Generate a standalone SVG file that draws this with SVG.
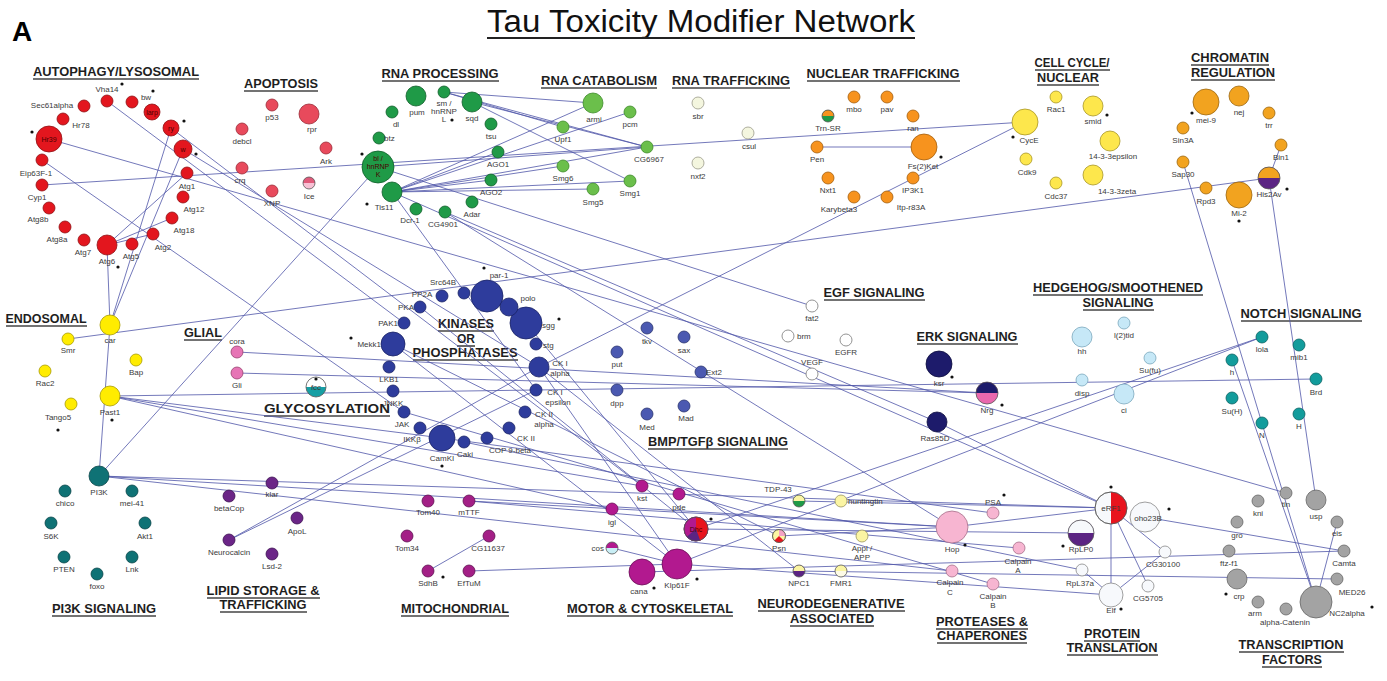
<svg xmlns="http://www.w3.org/2000/svg" width="1387" height="681" viewBox="0 0 1387 681">
<style>
.e{stroke:#5258aa;stroke-width:0.9;fill:none;opacity:0.9}
.l{font-family:"Liberation Sans",Arial,sans-serif;font-size:8px;fill:#3a3a3a;text-anchor:middle}
.ls{font-family:"Liberation Sans",Arial,sans-serif;font-size:8px;fill:#3a3a3a;text-anchor:start}
.le{font-family:"Liberation Sans",Arial,sans-serif;font-size:8px;fill:#3a3a3a;text-anchor:end}
.li{font-family:"Liberation Sans",Arial,sans-serif;font-size:7px;fill:#4a0000;text-anchor:middle}
.h{font-family:"Liberation Sans",Arial,sans-serif;font-size:12.5px;font-weight:bold;fill:#1e1e1e;text-anchor:middle}
.u{stroke:#444;stroke-width:1.6}
.d{fill:#111}
.au{fill:#e3161e;stroke:#8f1014;stroke-width:0.8}
.ap{fill:#e84a5c;stroke:#9a2a36;stroke-width:0.8}
.rp{fill:#1f9a47;stroke:#0f5e29;stroke-width:0.8}
.rc{fill:#6bbf4b;stroke:#3c8a28;stroke-width:0.8}
.rt{fill:#f4f6df;stroke:#9a9a8a;stroke-width:0.8}
.nt{fill:#f7931e;stroke:#a35e0c;stroke-width:0.8}
.cc{fill:#fde74c;stroke:#a89623;stroke-width:0.8}
.ch{fill:#f2a31f;stroke:#9c6710;stroke-width:0.8}
.en{fill:#ffec00;stroke:#a89a00;stroke-width:0.8}
.gl{fill:#e674b5;stroke:#97406f;stroke-width:0.8}
.ki{fill:#2e3c9c;stroke:#1a2366;stroke-width:0.8}
.bm{fill:#4b59b1;stroke:#2a336e;stroke-width:0.8}
.eg{fill:#ffffff;stroke:#888;stroke-width:0.9}
.er{fill:#1d1b6b;stroke:#0d0c3d;stroke-width:0.8}
.hh{fill:#c6e8f7;stroke:#7aa7bc;stroke-width:0.8}
.no{fill:#129c9c;stroke:#0a6262;stroke-width:0.8}
.pi{fill:#0f7275;stroke:#084447;stroke-width:0.8}
.lp{fill:#6b2587;stroke:#3b1050;stroke-width:0.8}
.mi{fill:#a31f86;stroke:#5e1050;stroke-width:0.8}
.mo{fill:#b2198f;stroke:#6a0e55;stroke-width:0.8}
.nd{fill:#fbf5a3;stroke:#9a9560;stroke-width:0.8}
.pr{fill:#f7b5d1;stroke:#a6708a;stroke-width:0.8}
.tr{fill:#f7f9fc;stroke:#888;stroke-width:0.8}
.tf{fill:#a3a3a3;stroke:#666;stroke-width:0.8}
.ring{fill:none;stroke:#555;stroke-width:0.8}
</style>
<rect width="1387" height="681" fill="#ffffff"/>
<text x="12" y="41" font-family="Liberation Sans, Arial, sans-serif" font-size="28" font-weight="bold" fill="#000">A</text>
<text x="701" y="32" font-family="Liberation Sans, Arial, sans-serif" font-size="31" fill="#111" text-anchor="middle" textLength="428" lengthAdjust="spacingAndGlyphs">Tau Toxicity Modifier Network</text>
<line x1="487" y1="38" x2="915" y2="38" stroke="#222" stroke-width="2"/>

<g id="headers">
<text class="h" x="116" y="76" textLength="166" lengthAdjust="spacingAndGlyphs">AUTOPHAGY/LYSOSOMAL</text><line class="u" x1="33" y1="79" x2="199" y2="79"/>
<text class="h" x="281" y="88" textLength="74" lengthAdjust="spacingAndGlyphs">APOPTOSIS</text><line class="u" x1="244" y1="91" x2="318" y2="91"/>
<text class="h" x="440" y="78" textLength="117" lengthAdjust="spacingAndGlyphs">RNA PROCESSING</text><line class="u" x1="382" y1="81" x2="499" y2="81"/>
<text class="h" x="599" y="85" textLength="116" lengthAdjust="spacingAndGlyphs">RNA CATABOLISM</text><line class="u" x1="541" y1="88" x2="657" y2="88"/>
<text class="h" x="731" y="85" textLength="118" lengthAdjust="spacingAndGlyphs">RNA TRAFFICKING</text><line class="u" x1="672" y1="88" x2="790" y2="88"/>
<text class="h" x="883" y="78" textLength="153" lengthAdjust="spacingAndGlyphs">NUCLEAR TRAFFICKING</text><line class="u" x1="807" y1="81" x2="960" y2="81"/>
<text class="h" x="1072" y="67" textLength="75" lengthAdjust="spacingAndGlyphs">CELL CYCLE/</text><line class="u" x1="1035" y1="70" x2="1110" y2="70"/>
<text class="h" x="1068" y="82" textLength="62" lengthAdjust="spacingAndGlyphs">NUCLEAR</text><line class="u" x1="1037" y1="85" x2="1099" y2="85"/>
<text class="h" x="1230" y="62" textLength="78" lengthAdjust="spacingAndGlyphs">CHROMATIN</text><line class="u" x1="1191" y1="65" x2="1269" y2="65"/>
<text class="h" x="1233" y="77" textLength="84" lengthAdjust="spacingAndGlyphs">REGULATION</text><line class="u" x1="1191" y1="80" x2="1275" y2="80"/>
<text class="h" x="46" y="323" textLength="81" lengthAdjust="spacingAndGlyphs">ENDOSOMAL</text><line class="u" x1="6" y1="326" x2="87" y2="326"/>
<text class="h" x="203" y="337" textLength="38" lengthAdjust="spacingAndGlyphs">GLIAL</text><line class="u" x1="184" y1="340" x2="222" y2="340"/>
<text class="h" x="466" y="328" textLength="56" lengthAdjust="spacingAndGlyphs">KINASES</text><line class="u" x1="438" y1="331" x2="494" y2="331"/>
<text class="h" x="466" y="343" textLength="18" lengthAdjust="spacingAndGlyphs">OR</text><line class="u" x1="457" y1="346" x2="475" y2="346"/>
<text class="h" x="465" y="357" textLength="105" lengthAdjust="spacingAndGlyphs">PHOSPHATASES</text><line class="u" x1="413" y1="360" x2="518" y2="360"/>
<text class="h" x="327" y="413" textLength="126" lengthAdjust="spacingAndGlyphs">GLYCOSYLATION</text><line class="u" x1="264" y1="416" x2="390" y2="416"/>
<text class="h" x="874" y="297" textLength="101" lengthAdjust="spacingAndGlyphs">EGF SIGNALING</text><line class="u" x1="824" y1="300" x2="925" y2="300"/>
<text class="h" x="967" y="341" textLength="101" lengthAdjust="spacingAndGlyphs">ERK SIGNALING</text><line class="u" x1="917" y1="344" x2="1018" y2="344"/>
<text class="h" x="1118" y="292" textLength="170" lengthAdjust="spacingAndGlyphs">HEDGEHOG/SMOOTHENED</text><line class="u" x1="1033" y1="295" x2="1203" y2="295"/>
<text class="h" x="1118" y="307" textLength="71" lengthAdjust="spacingAndGlyphs">SIGNALING</text><line class="u" x1="1083" y1="310" x2="1154" y2="310"/>
<text class="h" x="1301" y="318" textLength="121" lengthAdjust="spacingAndGlyphs">NOTCH SIGNALING</text><line class="u" x1="1241" y1="321" x2="1362" y2="321"/>
<text class="h" x="718" y="446" textLength="140" lengthAdjust="spacingAndGlyphs">BMP/TGFβ SIGNALING</text><line class="u" x1="648" y1="449" x2="788" y2="449"/>
<text class="h" x="104" y="613" textLength="104" lengthAdjust="spacingAndGlyphs">PI3K SIGNALING</text><line class="u" x1="52" y1="616" x2="156" y2="616"/>
<text class="h" x="263" y="595" textLength="113" lengthAdjust="spacingAndGlyphs">LIPID STORAGE &amp;</text><line class="u" x1="207" y1="598" x2="320" y2="598"/>
<text class="h" x="263" y="609" textLength="87" lengthAdjust="spacingAndGlyphs">TRAFFICKING</text><line class="u" x1="220" y1="612" x2="307" y2="612"/>
<text class="h" x="455" y="613" textLength="108" lengthAdjust="spacingAndGlyphs">MITOCHONDRIAL</text><line class="u" x1="401" y1="616" x2="509" y2="616"/>
<text class="h" x="650" y="613" textLength="166" lengthAdjust="spacingAndGlyphs">MOTOR &amp; CYTOSKELETAL</text><line class="u" x1="567" y1="616" x2="733" y2="616"/>
<text class="h" x="831" y="608" textLength="147" lengthAdjust="spacingAndGlyphs">NEURODEGENERATIVE</text><line class="u" x1="758" y1="611" x2="905" y2="611"/>
<text class="h" x="832" y="623" textLength="84" lengthAdjust="spacingAndGlyphs">ASSOCIATED</text><line class="u" x1="790" y1="626" x2="874" y2="626"/>
<text class="h" x="982" y="626" textLength="92" lengthAdjust="spacingAndGlyphs">PROTEASES &amp;</text><line class="u" x1="936" y1="629" x2="1028" y2="629"/>
<text class="h" x="982" y="640" textLength="90" lengthAdjust="spacingAndGlyphs">CHAPERONES</text><line class="u" x1="937" y1="643" x2="1027" y2="643"/>
<text class="h" x="1112" y="638" textLength="56" lengthAdjust="spacingAndGlyphs">PROTEIN</text><line class="u" x1="1084" y1="641" x2="1140" y2="641"/>
<text class="h" x="1112" y="652" textLength="91" lengthAdjust="spacingAndGlyphs">TRANSLATION</text><line class="u" x1="1067" y1="655" x2="1158" y2="655"/>
<text class="h" x="1291" y="649" textLength="105" lengthAdjust="spacingAndGlyphs">TRANSCRIPTION</text><line class="u" x1="1239" y1="652" x2="1344" y2="652"/>
<text class="h" x="1292" y="664" textLength="60" lengthAdjust="spacingAndGlyphs">FACTORS</text><line class="u" x1="1262" y1="667" x2="1322" y2="667"/>
</g>

<g id="connectors">
<line class="e" x1="42" y1="185" x2="1025" y2="122"/>
<line class="e" x1="68" y1="339" x2="1269" y2="178"/>
<line class="e" x1="1269" y1="178" x2="1281" y2="145"/>
<line class="e" x1="110" y1="325" x2="171" y2="128"/>
<line class="e" x1="110" y1="325" x2="183" y2="149"/>
<line class="e" x1="107" y1="245" x2="110" y2="325"/>
<line class="e" x1="110" y1="325" x2="99" y2="476"/>
<line class="e" x1="107" y1="245" x2="187" y2="173"/>
<line class="e" x1="107" y1="245" x2="172" y2="218"/>
<line class="e" x1="107" y1="245" x2="153" y2="234"/>
<line class="e" x1="49" y1="139" x2="1286" y2="493"/>
<line class="e" x1="42" y1="160" x2="404" y2="412"/>
<line class="e" x1="107" y1="101" x2="404" y2="323"/>
<line class="e" x1="171" y1="128" x2="642" y2="486"/>
<line class="e" x1="183" y1="149" x2="539" y2="367"/>
<line class="e" x1="99" y1="476" x2="378" y2="167"/>
<line class="e" x1="110" y1="396" x2="1316" y2="379"/>
<line class="e" x1="110" y1="396" x2="442" y2="438"/>
<line class="e" x1="110" y1="396" x2="642" y2="486"/>
<line class="e" x1="110" y1="396" x2="612" y2="509"/>
<line class="e" x1="237" y1="352" x2="987" y2="393"/>
<line class="e" x1="237" y1="373" x2="987" y2="393"/>
<line class="e" x1="229" y1="540" x2="539" y2="367"/>
<line class="e" x1="229" y1="540" x2="536" y2="390"/>
<line class="e" x1="99" y1="476" x2="952" y2="527"/>
<line class="e" x1="99" y1="476" x2="1111" y2="508"/>
<line class="e" x1="99" y1="476" x2="952" y2="571"/>
<line class="e" x1="428" y1="571" x2="489" y2="536"/>
<line class="e" x1="469" y1="571" x2="677" y2="564"/>
<line class="e" x1="469" y1="501" x2="952" y2="527"/>
<line class="e" x1="469" y1="501" x2="1019" y2="548"/>
<line class="e" x1="817" y1="147" x2="924" y2="147"/>
<line class="e" x1="444" y1="92" x2="593" y2="103"/>
<line class="e" x1="444" y1="92" x2="563" y2="127"/>
<line class="e" x1="444" y1="92" x2="647" y2="147"/>
<line class="e" x1="472" y1="102" x2="630" y2="181"/>
<line class="e" x1="472" y1="102" x2="647" y2="147"/>
<line class="e" x1="392" y1="192" x2="593" y2="103"/>
<line class="e" x1="392" y1="192" x2="630" y2="112"/>
<line class="e" x1="392" y1="192" x2="498" y2="152"/>
<line class="e" x1="392" y1="192" x2="647" y2="147"/>
<line class="e" x1="392" y1="192" x2="563" y2="166"/>
<line class="e" x1="392" y1="192" x2="593" y2="189"/>
<line class="e" x1="392" y1="192" x2="491" y2="180"/>
<line class="e" x1="392" y1="192" x2="630" y2="181"/>
<line class="e" x1="378" y1="167" x2="647" y2="147"/>
<line class="e" x1="378" y1="167" x2="812" y2="306"/>
<line class="e" x1="445" y1="212" x2="937" y2="422"/>
<line class="e" x1="445" y1="212" x2="952" y2="527"/>
<line class="e" x1="392" y1="192" x2="1111" y2="508"/>
<line class="e" x1="392" y1="192" x2="536" y2="390"/>
<line class="e" x1="1025" y1="122" x2="539" y2="367"/>
<line class="e" x1="677" y1="564" x2="1262" y2="337"/>
<line class="e" x1="696" y1="529" x2="1262" y2="337"/>
<line class="e" x1="677" y1="564" x2="1111" y2="595"/>
<line class="e" x1="799" y1="571" x2="1337" y2="579"/>
<line class="e" x1="642" y1="572" x2="1344" y2="551"/>
<line class="e" x1="1145" y1="517" x2="1344" y2="551"/>
<line class="e" x1="1183" y1="162" x2="1316" y2="602"/>
<line class="e" x1="1269" y1="178" x2="1316" y2="500"/>
<line class="e" x1="1232" y1="360" x2="1316" y2="602"/>
<line class="e" x1="1316" y1="602" x2="1337" y2="522"/>
<line class="e" x1="1111" y1="508" x2="1111" y2="595"/>
<line class="e" x1="1111" y1="508" x2="1165" y2="552"/>
<line class="e" x1="1111" y1="508" x2="1148" y2="586"/>
<line class="e" x1="1111" y1="595" x2="1165" y2="552"/>
<line class="e" x1="1111" y1="595" x2="1082" y2="570"/>
<line class="e" x1="799" y1="501" x2="1111" y2="508"/>
<line class="e" x1="696" y1="529" x2="1081" y2="533"/>
<line class="e" x1="779" y1="536" x2="952" y2="527"/>
<line class="e" x1="937" y1="422" x2="1111" y2="508"/>
<line class="e" x1="539" y1="367" x2="799" y2="571"/>
<line class="e" x1="526" y1="323" x2="696" y2="529"/>
<line class="e" x1="393" y1="344" x2="779" y2="536"/>
<line class="e" x1="442" y1="438" x2="993" y2="513"/>
<line class="e" x1="464" y1="442" x2="1082" y2="570"/>
<line class="e" x1="404" y1="412" x2="993" y2="584"/>
<line class="e" x1="420" y1="307" x2="696" y2="529"/>
<line class="e" x1="612" y1="548" x2="677" y2="564"/>
<line class="e" x1="393" y1="344" x2="677" y2="564"/>
<line class="e" x1="539" y1="367" x2="677" y2="564"/>
<line class="e" x1="952" y1="527" x2="1111" y2="508"/>
</g>

<g id="n-Vha14"><circle class="au" cx="107" cy="101" r="6"/><text class="l" x="107" y="92">Vha14</text><circle class="d" cx="122" cy="84" r="1.6"/></g>
<g id="n-bw"><circle class="au" cx="132" cy="102" r="6"/><text class="l" x="146" y="100">bw</text><circle class="d" cx="153" cy="91" r="1.6"/></g>
<g id="n-larp"><circle class="au" cx="152" cy="112" r="8"/><text class="li" x="152" y="115">larp</text></g>
<g id="n-ry"><circle class="au" cx="171" cy="128" r="8"/><text class="li" x="171" y="131">ry</text><circle class="d" cx="184" cy="121" r="1.6"/></g>
<g id="n-w"><circle class="au" cx="183" cy="149" r="9"/><text class="li" x="183" y="152">w</text><circle class="d" cx="196" cy="154" r="1.6"/></g>
<g id="n-Sec61alpha"><circle class="au" cx="84" cy="106" r="6"/><text class="l" x="52" y="108">Sec61alpha</text></g>
<g id="n-Hr78"><circle class="au" cx="63" cy="119" r="6"/><text class="l" x="81" y="128">Hr78</text></g>
<g id="n-Hr39"><circle class="au" cx="49" cy="139" r="13"/><text class="li" x="49" y="142">Hr39</text><circle class="d" cx="32" cy="132" r="1.6"/></g>
<g id="n-Eip63F-1"><circle class="au" cx="42" cy="160" r="6"/><text class="l" x="36" y="176">Eip63F-1</text></g>
<g id="n-Cyp1"><circle class="au" cx="42" cy="185" r="6"/><text class="l" x="37" y="200">Cyp1</text></g>
<g id="n-Atg8b"><circle class="au" cx="49" cy="208" r="6"/><text class="l" x="38" y="222">Atg8b</text></g>
<g id="n-Atg8a"><circle class="au" cx="65" cy="227" r="6"/><text class="l" x="57" y="242">Atg8a</text></g>
<g id="n-Atg7"><circle class="au" cx="84" cy="240" r="6"/><text class="l" x="83" y="255">Atg7</text></g>
<g id="n-Atg6"><circle class="au" cx="107" cy="245" r="10"/><text class="l" x="107" y="264">Atg6</text><circle class="d" cx="118" cy="267" r="1.6"/></g>
<g id="n-Atg5"><circle class="au" cx="132" cy="244" r="6"/><text class="l" x="131" y="259">Atg5</text></g>
<g id="n-Atg2"><circle class="au" cx="153" cy="234" r="6"/><text class="l" x="163" y="250">Atg2</text></g>
<g id="n-Atg18"><circle class="au" cx="172" cy="218" r="6"/><text class="l" x="184" y="233">Atg18</text></g>
<g id="n-Atg12"><circle class="au" cx="183" cy="197" r="6"/><text class="l" x="194" y="212">Atg12</text></g>
<g id="n-Atg1"><circle class="au" cx="187" cy="173" r="6"/><text class="l" x="187" y="189">Atg1</text></g>

<g id="n-p53"><circle class="ap" cx="272" cy="105" r="6"/><text class="l" x="272" y="120">p53</text></g>
<g id="n-rpr"><circle class="ap" cx="309" cy="114" r="10"/><text class="l" x="312" y="132">rpr</text></g>
<g id="n-debcl"><circle class="ap" cx="242" cy="129" r="6"/><text class="l" x="242" y="144">debcl</text></g>
<g id="n-Ark"><circle class="ap" cx="326" cy="148" r="6"/><text class="l" x="326" y="164">Ark</text></g>
<g id="n-crq"><circle class="ap" cx="242" cy="168" r="6"/><text class="l" x="240" y="183">crq</text></g>
<g id="n-Ice"><circle cx="309" cy="183" r="6" fill="#f7c0d4"/><path d="M303,183 A6,6 0 0 1 315,183 Z" fill="#e05a7a"/><circle class="ring" cx="309" cy="183" r="6" stroke="#9a2a36"/><text class="l" x="309" y="199">Ice</text></g>
<g id="n-XNP"><circle class="ap" cx="272" cy="191" r="6"/><text class="l" x="272" y="206">XNP</text></g>

<g id="n-pum"><circle class="rp" cx="416" cy="96" r="10"/><text class="l" x="417" y="115">pum</text></g>
<g id="n-sm"><circle class="rp" cx="444" cy="92" r="6"/><text class="l" x="444" y="106">sm /</text><text class="l" x="444" y="114">hnRNP</text><text class="l" x="444" y="122">L</text><circle class="d" cx="452" cy="120" r="1.6"/></g>
<g id="n-sqd"><circle class="rp" cx="472" cy="102" r="10"/><text class="l" x="472" y="121">sqd</text></g>
<g id="n-dl"><circle class="rp" cx="392" cy="112" r="6"/><text class="l" x="396" y="127">dl</text></g>
<g id="n-tsu"><circle class="rp" cx="491" cy="124" r="6"/><text class="l" x="491" y="139">tsu</text></g>
<g id="n-btz"><circle class="rp" cx="379" cy="138" r="6"/><text class="ls" x="384" y="141">btz</text></g>
<g id="n-bl"><circle class="rp" cx="378" cy="167" r="16"/><text class="li" x="378" y="161" fill="#0a2a10">bl /</text><text class="li" x="378" y="169">hnRNP</text><text class="li" x="378" y="177">K</text><circle class="d" cx="362" cy="154" r="1.6"/></g>
<g id="n-Tis11"><circle class="rp" cx="392" cy="192" r="10"/><text class="l" x="384" y="210">Tis11</text><circle class="d" cx="367" cy="204" r="1.6"/></g>
<g id="n-Dcr-1"><circle class="rp" cx="416" cy="209" r="6"/><text class="l" x="410" y="223">Dcr-1</text></g>
<g id="n-CG4901"><circle class="rp" cx="445" cy="212" r="6"/><text class="l" x="443" y="227">CG4901</text></g>
<g id="n-Adar"><circle class="rp" cx="472" cy="202" r="6"/><text class="l" x="472" y="217">Adar</text></g>
<g id="n-AGO1"><circle class="rp" cx="498" cy="152" r="6"/><text class="l" x="498" y="167">AGO1</text></g>
<g id="n-AGO2"><circle class="rp" cx="491" cy="180" r="6"/><text class="l" x="491" y="195">AGO2</text></g>

<g id="n-armi"><circle class="rc" cx="593" cy="103" r="10"/><text class="l" x="594" y="122">armi</text></g>
<g id="n-pcm"><circle class="rc" cx="630" cy="112" r="6"/><text class="l" x="630" y="127">pcm</text></g>
<g id="n-Upf1"><circle class="rc" cx="563" cy="127" r="6"/><text class="l" x="563" y="142">Upf1</text></g>
<g id="n-CG6967"><circle class="rc" cx="647" cy="147" r="6"/><text class="l" x="649" y="162">CG6967</text></g>
<g id="n-Smg6"><circle class="rc" cx="563" cy="166" r="6"/><text class="l" x="563" y="181">Smg6</text></g>
<g id="n-Smg5"><circle class="rc" cx="593" cy="189" r="6"/><text class="l" x="593" y="205">Smg5</text></g>
<g id="n-Smg1"><circle class="rc" cx="630" cy="181" r="6"/><text class="l" x="630" y="196">Smg1</text></g>

<g id="n-sbr"><circle class="rt" cx="698" cy="103" r="6"/><text class="l" x="698" y="119">sbr</text></g>
<g id="n-csul"><circle class="rt" cx="748" cy="133" r="6"/><text class="l" x="749" y="149">csul</text></g>
<g id="n-nxf2"><circle class="rt" cx="698" cy="163" r="6"/><text class="l" x="698" y="179">nxf2</text></g>

<g id="n-mbo"><circle class="nt" cx="854" cy="97" r="6"/><text class="l" x="854" y="112">mbo</text></g>
<g id="n-pav"><circle class="nt" cx="887" cy="97" r="6"/><text class="l" x="887" y="112">pav</text></g>
<g id="n-ran"><circle class="nt" cx="913" cy="116" r="6"/><text class="l" x="913" y="131">ran</text></g>
<g id="n-Trn-SR"><circle cx="828" cy="116" r="6" fill="#1f9a47"/><path d="M822,116 A6,6 0 0 1 834,116 Z" fill="#f7931e"/><circle class="ring" cx="828" cy="116" r="6" stroke="#a35e0c"/><text class="l" x="828" y="131">Trn-SR</text></g>
<g id="n-Pen"><circle class="nt" cx="817" cy="147" r="6"/><text class="l" x="817" y="162">Pen</text></g>
<g id="n-Fs2Ket"><circle class="nt" cx="924" cy="147" r="13"/><text class="l" x="923" y="169">Fs(2)Ket</text><circle class="d" cx="941" cy="157" r="1.6"/></g>
<g id="n-Nxt1"><circle class="nt" cx="828" cy="178" r="6"/><text class="l" x="828" y="193">Nxt1</text></g>
<g id="n-IP3K1"><circle class="nt" cx="913" cy="178" r="6"/><text class="l" x="913" y="193">IP3K1</text></g>
<g id="n-Karybeta3"><circle class="nt" cx="854" cy="197" r="6"/><text class="l" x="839" y="212">Karybeta3</text></g>
<g id="n-Itp-r83A"><circle class="nt" cx="887" cy="197" r="6"/><text class="l" x="911" y="210">Itp-r83A</text></g>

<g id="n-CycE"><circle class="cc" cx="1025" cy="122" r="13"/><text class="l" x="1029" y="143">CycE</text><circle class="d" cx="1013" cy="137" r="1.6"/></g>
<g id="n-Cdk9"><circle class="cc" cx="1026" cy="159" r="6"/><text class="l" x="1027" y="175">Cdk9</text></g>
<g id="n-Rac1"><circle class="cc" cx="1056" cy="97" r="6"/><text class="l" x="1056" y="112">Rac1</text></g>
<g id="n-smid"><circle class="cc" cx="1093" cy="106" r="10"/><text class="l" x="1093" y="124">smid</text><circle class="d" cx="1107" cy="115" r="1.6"/></g>
<g id="n-14-3-3epsilon"><circle class="cc" cx="1110" cy="141" r="10"/><text class="l" x="1113" y="159">14-3-3epsilon</text></g>
<g id="n-14-3-3zeta"><circle class="cc" cx="1093" cy="175" r="10"/><text class="l" x="1117" y="194">14-3-3zeta</text></g>
<g id="n-Cdc37"><circle class="cc" cx="1056" cy="183" r="6"/><text class="l" x="1056" y="199">Cdc37</text></g>

<g id="n-mei-9"><circle class="ch" cx="1206" cy="102" r="13"/><text class="l" x="1206" y="123">mei-9</text><circle class="d" cx="1192" cy="113" r="1.6"/></g>
<g id="n-nej"><circle class="ch" cx="1239" cy="96" r="10"/><text class="l" x="1239" y="115">nej</text></g>
<g id="n-trr"><circle class="ch" cx="1269" cy="113" r="6"/><text class="l" x="1269" y="128">trr</text></g>
<g id="n-Sin3A"><circle class="ch" cx="1183" cy="128" r="6"/><text class="l" x="1183" y="143">Sin3A</text></g>
<g id="n-Bin1"><circle class="ch" cx="1281" cy="145" r="6"/><text class="l" x="1281" y="160">Bin1</text></g>
<g id="n-Sap30"><circle class="ch" cx="1183" cy="162" r="6"/><text class="l" x="1183" y="177">Sap30</text></g>
<g id="n-His2Av"><circle cx="1269" cy="178" r="11" fill="#5b2483"/><path d="M1258,178 A11,11 0 0 1 1280,178 Z" fill="#f2a31f"/><circle class="ring" cx="1269" cy="178" r="11" stroke="#6b4a10"/><text class="l" x="1269" y="197">His2Av</text><circle class="d" cx="1287" cy="189" r="1.6"/></g>
<g id="n-Rpd3"><circle class="ch" cx="1206" cy="188" r="6"/><text class="l" x="1206" y="204">Rpd3</text></g>
<g id="n-Mi-2"><circle class="ch" cx="1239" cy="195" r="13"/><text class="l" x="1239" y="216">Mi-2</text><circle class="d" cx="1239" cy="221" r="1.6"/></g>

<g id="n-car"><circle class="en" cx="110" cy="325" r="10"/><text class="l" x="110" y="343">car</text></g>
<g id="n-Smr"><circle class="en" cx="68" cy="339" r="6"/><text class="l" x="68" y="353">Smr</text></g>
<g id="n-Rac2"><circle class="en" cx="45" cy="371" r="6"/><text class="l" x="45" y="386">Rac2</text></g>
<g id="n-Bap"><circle class="en" cx="136" cy="360" r="6"/><text class="l" x="136" y="375">Bap</text></g>
<g id="n-Past1"><circle class="en" cx="110" cy="396" r="10"/><text class="l" x="110" y="415">Past1</text><circle class="d" cx="112" cy="420" r="1.6"/></g>
<g id="n-Tango5"><circle class="en" cx="71" cy="404" r="6"/><text class="l" x="58" y="420">Tango5</text><circle class="d" cx="58" cy="430" r="1.6"/></g>

<g id="n-cora"><circle class="gl" cx="237" cy="352" r="6"/><text class="l" x="237" y="344">cora</text></g>
<g id="n-Gli"><circle class="gl" cx="237" cy="373" r="6"/><text class="l" x="237" y="388">Gli</text></g>
<g id="n-fcc"><circle cx="316" cy="387" r="10" fill="#ffffff"/><path d="M306,387 A10,10 0 0 0 326,387 Z" fill="#169fa4"/><circle class="ring" cx="316" cy="387" r="10" stroke="#777"/><text class="l" x="316" y="390">fcc</text><circle class="d" cx="316" cy="379" r="1.6"/></g>

<g id="n-par-1"><circle class="ki" cx="487" cy="296" r="16"/><text class="l" x="499" y="278">par-1</text><circle class="d" cx="484" cy="268" r="1.6"/></g>
<g id="n-Src64B"><circle class="ki" cx="464" cy="293" r="6"/><text class="l" x="443" y="285">Src64B</text></g>
<g id="n-PP2A"><circle class="ki" cx="442" cy="296" r="6"/><text class="l" x="422" y="297">PP2A</text></g>
<g id="n-PKA"><circle class="ki" cx="420" cy="307" r="6"/><text class="le" x="414" y="310">PKA</text></g>
<g id="n-PAK1"><circle class="ki" cx="404" cy="323" r="6"/><text class="le" x="398" y="326">PAK1</text></g>
<g id="n-Mekk1"><circle class="ki" cx="393" cy="344" r="12"/><text class="le" x="381" y="347">Mekk1</text><circle class="d" cx="351" cy="338" r="1.6"/></g>
<g id="n-LKB1"><circle class="ki" cx="389" cy="367" r="6"/><text class="l" x="389" y="382">LKB1</text></g>
<g id="n-JNKK"><circle class="ki" cx="393" cy="391" r="6"/><text class="l" x="393" y="406">JNKK</text></g>
<g id="n-JAK"><circle class="ki" cx="404" cy="412" r="6"/><text class="l" x="402" y="427">JAK</text></g>
<g id="n-IKKb"><circle class="ki" cx="420" cy="428" r="6"/><text class="l" x="412" y="442">IKKβ</text></g>
<g id="n-CamKI"><circle class="ki" cx="442" cy="438" r="13"/><text class="l" x="442" y="461">CamKI</text><circle class="d" cx="442" cy="466" r="1.6"/></g>
<g id="n-Caki"><circle class="ki" cx="464" cy="442" r="6"/><text class="l" x="465" y="457">Caki</text></g>
<g id="n-COP9"><circle class="ki" cx="487" cy="438" r="6"/><text class="l" x="510" y="453">COP 9-beta</text></g>
<g id="n-CKIIbeta"><circle class="ki" cx="509" cy="428" r="6"/><text class="l" x="526" y="441">CK II</text></g>
<g id="n-CKIIalpha"><circle class="ki" cx="525" cy="412" r="6"/><text class="l" x="544" y="417">CK II</text><text class="l" x="544" y="427">alpha</text></g>
<g id="n-CKIepsilon"><circle class="ki" cx="536" cy="390" r="6"/><text class="l" x="555" y="395">CK I</text><text class="l" x="558" y="405">epsilon</text></g>
<g id="n-CKIalpha"><circle class="ki" cx="539" cy="367" r="10"/><text class="l" x="560" y="366">CK I</text><text class="l" x="560" y="376">alpha</text></g>
<g id="n-stg"><circle class="ki" cx="536" cy="344" r="6"/><text class="ls" x="543" y="348">stg</text></g>
<g id="n-sgg"><circle class="ki" cx="526" cy="323" r="16"/><text class="ls" x="542" y="328">sgg</text><circle class="d" cx="559" cy="319" r="1.6"/></g>
<g id="n-polo"><circle class="ki" cx="509" cy="307" r="9"/><text class="l" x="528" y="301">polo</text></g>

<g id="n-tkv"><circle class="bm" cx="647" cy="328" r="6"/><text class="l" x="647" y="344">tkv</text></g>
<g id="n-sax"><circle class="bm" cx="684" cy="337" r="6"/><text class="l" x="684" y="353">sax</text></g>
<g id="n-put"><circle class="bm" cx="617" cy="352" r="6"/><text class="l" x="617" y="367">put</text></g>
<g id="n-dpp"><circle class="bm" cx="617" cy="390" r="6"/><text class="l" x="617" y="406">dpp</text></g>
<g id="n-Ext2"><circle class="bm" cx="701" cy="372" r="6"/><text class="ls" x="706" y="375">Ext2</text></g>
<g id="n-Med"><circle class="bm" cx="647" cy="414" r="6"/><text class="l" x="647" y="430">Med</text></g>
<g id="n-Mad"><circle class="bm" cx="684" cy="406" r="6"/><text class="l" x="686" y="421">Mad</text></g>

<g id="n-fat2"><circle class="eg" cx="812" cy="306" r="6"/><text class="l" x="812" y="321">fat2</text></g>
<g id="n-brm"><circle class="eg" cx="788" cy="336" r="6"/><text class="ls" x="797" y="339">brm</text></g>
<g id="n-EGFR"><circle class="eg" cx="846" cy="340" r="6"/><text class="l" x="846" y="355">EGFR</text></g>
<g id="n-VEGF"><circle class="eg" cx="812" cy="374" r="6"/><text class="l" x="812" y="365">VEGF</text></g>

<g id="n-ksr"><circle class="er" cx="939" cy="364" r="13"/><text class="l" x="939" y="386">ksr</text><circle class="d" cx="952" cy="377" r="1.6"/></g>
<g id="n-Nrg"><circle cx="987" cy="393" r="11" fill="#ea68ae"/><path d="M976,393 A11,11 0 0 1 998,393 Z" fill="#1d1b6b"/><circle class="ring" cx="987" cy="393" r="11" stroke="#0d0c3d"/><text class="l" x="987" y="413">Nrg</text><circle class="d" cx="1002" cy="405" r="1.6"/></g>
<g id="n-Ras85D"><circle class="er" cx="937" cy="422" r="10"/><text class="l" x="935" y="441">Ras85D</text></g>

<g id="n-hh"><circle class="hh" cx="1082" cy="337" r="10"/><text class="l" x="1082" y="354">hh</text></g>
<g id="n-l2tid"><circle class="hh" cx="1124" cy="323" r="6"/><text class="l" x="1124" y="338">l(2)tid</text></g>
<g id="n-Sufu"><circle class="hh" cx="1150" cy="358" r="6"/><text class="l" x="1150" y="373">Su(fu)</text></g>
<g id="n-disp"><circle class="hh" cx="1082" cy="380" r="6"/><text class="l" x="1082" y="396">disp</text></g>
<g id="n-ci"><circle class="hh" cx="1124" cy="394" r="10"/><text class="l" x="1124" y="413">ci</text></g>

<g id="n-lola"><circle class="no" cx="1262" cy="337" r="6"/><text class="l" x="1262" y="352">lola</text></g>
<g id="n-mib1"><circle class="no" cx="1299" cy="345" r="6"/><text class="l" x="1299" y="360">mib1</text></g>
<g id="n-h"><circle class="no" cx="1232" cy="360" r="6"/><text class="l" x="1232" y="375">h</text></g>
<g id="n-Brd"><circle class="no" cx="1316" cy="379" r="6"/><text class="l" x="1316" y="395">Brd</text></g>
<g id="n-SuH"><circle class="no" cx="1232" cy="398" r="6"/><text class="l" x="1232" y="414">Su(H)</text></g>
<g id="n-N"><circle class="no" cx="1262" cy="423" r="6"/><text class="l" x="1262" y="438">N</text></g>
<g id="n-H"><circle class="no" cx="1299" cy="414" r="6"/><text class="l" x="1299" y="429">H</text></g>

<g id="n-PI3K"><circle class="pi" cx="99" cy="476" r="10"/><text class="l" x="99" y="495">PI3K</text></g>
<g id="n-chico"><circle class="pi" cx="65" cy="491" r="6"/><text class="l" x="65" y="506">chico</text></g>
<g id="n-mei-41"><circle class="pi" cx="132" cy="491" r="6"/><text class="l" x="132" y="506">mei-41</text></g>
<g id="n-S6K"><circle class="pi" cx="51" cy="523" r="6"/><text class="l" x="51" y="539">S6K</text></g>
<g id="n-Akt1"><circle class="pi" cx="145" cy="523" r="6"/><text class="l" x="145" y="539">Akt1</text></g>
<g id="n-PTEN"><circle class="pi" cx="64" cy="557" r="6"/><text class="l" x="64" y="572">PTEN</text></g>
<g id="n-Lnk"><circle class="pi" cx="132" cy="557" r="6"/><text class="l" x="132" y="572">Lnk</text></g>
<g id="n-foxo"><circle class="pi" cx="97" cy="574" r="6"/><text class="l" x="97" y="589">foxo</text></g>

<g id="n-klar"><circle class="lp" cx="272" cy="483" r="6"/><text class="l" x="272" y="497">klar</text></g>
<g id="n-betaCop"><circle class="lp" cx="229" cy="496" r="6"/><text class="l" x="229" y="511">betaCop</text></g>
<g id="n-ApoL"><circle class="lp" cx="297" cy="518" r="6"/><text class="l" x="297" y="534">ApoL</text></g>
<g id="n-Neurocalcin"><circle class="lp" cx="229" cy="540" r="6"/><text class="l" x="229" y="555">Neurocalcin</text></g>
<g id="n-Lsd-2"><circle class="lp" cx="272" cy="554" r="6"/><text class="l" x="272" y="569">Lsd-2</text></g>

<g id="n-Tom40"><circle class="mi" cx="428" cy="501" r="6"/><text class="l" x="428" y="515">Tom40</text></g>
<g id="n-mTTF"><circle class="mi" cx="469" cy="501" r="6"/><text class="l" x="469" y="515">mTTF</text></g>
<g id="n-Tom34"><circle class="mi" cx="407" cy="536" r="6"/><text class="l" x="407" y="551">Tom34</text></g>
<g id="n-CG11637"><circle class="mi" cx="489" cy="536" r="6"/><text class="l" x="488" y="551">CG11637</text></g>
<g id="n-SdhB"><circle class="mi" cx="428" cy="571" r="6"/><text class="l" x="428" y="586">SdhB</text><circle class="d" cx="443" cy="577" r="1.6"/></g>
<g id="n-EfTuM"><circle class="mi" cx="469" cy="571" r="6"/><text class="l" x="469" y="586">EfTuM</text></g>

<g id="n-kst"><circle class="mo" cx="642" cy="486" r="6"/><text class="l" x="642" y="501">kst</text></g>
<g id="n-pde"><circle class="mo" cx="679" cy="494" r="6"/><text class="l" x="679" y="510">pde</text></g>
<g id="n-igl"><circle class="mo" cx="612" cy="509" r="6"/><text class="l" x="612" y="525">igl</text></g>
<g id="n-cos"><circle cx="612" cy="548" r="6" fill="#c9eef5"/><path d="M606,548 A6,6 0 0 1 618,548 Z" fill="#b2198f"/><circle class="ring" cx="612" cy="548" r="6" stroke="#6a0e55"/><text class="le" x="604" y="551">cos</text></g>
<g id="n-Dhc"><circle class="mo" cx="696" cy="529" r="12"/><path d="M696,517 A12,12 0 0 1 696,541 Z" fill="#e8141e"/><path d="M696,529 L700.1,540.3 A12,12 0 0 1 686.8,536.7 Z" fill="#5b2483"/><circle class="ring" cx="696" cy="529" r="12" stroke="#6a0e55"/><text class="li" x="696" y="532" fill="#3a0020">Dhc</text><circle class="d" cx="711" cy="519" r="1.6"/></g>
<g id="n-Klp61F"><circle class="mo" cx="677" cy="564" r="15"/><text class="l" x="677" y="588">Klp61F</text><circle class="d" cx="697" cy="579" r="1.6"/></g>
<g id="n-cana"><circle class="mo" cx="642" cy="572" r="13"/><text class="l" x="639" y="594">cana</text><circle class="d" cx="654" cy="588" r="1.6"/></g>

<g id="n-TDP-43"><circle cx="799" cy="501" r="6" fill="#1f9a47"/><path d="M793,501 A6,6 0 0 1 805,501 Z" fill="#fbf5a3"/><circle class="ring" cx="799" cy="501" r="6" stroke="#6a6a40"/><text class="l" x="778" y="492">TDP-43</text></g>
<g id="n-huntingtin"><circle class="nd" cx="841" cy="501" r="6"/><text class="ls" x="848" y="504">huntingtin</text></g>
<g id="n-Psn"><circle class="nd" cx="779" cy="536" r="6.5"/><path d="M779,536 L779,529.5 A6.5,6.5 0 0 1 785.5,536 Z" fill="#f4a3c4"/><path d="M779,536 L783.6,540.6 A6.5,6.5 0 0 1 774.4,540.6 Z" fill="#e8141e"/><circle class="ring" cx="779" cy="536" r="6.5" stroke="#8a5a50"/><text class="l" x="779" y="551">Psn</text></g>
<g id="n-Appl"><circle class="nd" cx="862" cy="536" r="6"/><text class="l" x="862" y="551">Appl /</text><text class="l" x="862" y="560">APP</text></g>
<g id="n-NPC1"><circle cx="799" cy="571" r="6" fill="#5b2483"/><path d="M793,571 A6,6 0 0 1 805,571 Z" fill="#fbf5a3"/><circle class="ring" cx="799" cy="571" r="6" stroke="#5a4a40"/><text class="l" x="799" y="586">NPC1</text></g>
<g id="n-FMR1"><circle cx="841" cy="571" r="6" fill="#fdfbe6"/><path d="M835,571 A6,6 0 0 1 847,571 Z" fill="#fbf5a3"/><circle class="ring" cx="841" cy="571" r="6" stroke="#9a9560"/><text class="l" x="841" y="586">FMR1</text></g>

<g id="n-PSA"><circle class="pr" cx="993" cy="513" r="6"/><text class="l" x="993" y="505">PSA</text><circle class="d" cx="1004" cy="495" r="1.6"/></g>
<g id="n-Hop"><circle class="pr" cx="952" cy="527" r="16"/><text class="l" x="952" y="552">Hop</text><circle class="d" cx="965" cy="545" r="1.6"/></g>
<g id="n-CalpainA"><circle class="pr" cx="1019" cy="548" r="6"/><text class="l" x="1018" y="564">Calpain</text><text class="l" x="1018" y="573">A</text></g>
<g id="n-CalpainC"><circle class="pr" cx="952" cy="571" r="6"/><text class="l" x="950" y="585">Calpain</text><text class="l" x="950" y="595">C</text></g>
<g id="n-CalpainB"><circle class="pr" cx="993" cy="584" r="6"/><text class="l" x="993" y="599">Calpain</text><text class="l" x="993" y="608">B</text></g>

<g id="n-eRF1"><circle class="tr" cx="1111" cy="508" r="16"/><path d="M1111,492 A16,16 0 0 1 1111,524 Z" fill="#e8141e"/><circle class="ring" cx="1111" cy="508" r="16" stroke="#777"/><text class="l" x="1111" y="511">eRF1</text><circle class="d" cx="1111" cy="487" r="1.6"/></g>
<g id="n-oho23B"><circle class="tr" cx="1145" cy="517" r="15"/><text class="l" x="1148" y="521">oho23B</text><circle class="d" cx="1169" cy="509" r="1.6"/></g>
<g id="n-RpLP0"><circle cx="1081" cy="533" r="13" fill="#5b2483"/><path d="M1068,533 A13,13 0 0 1 1094,533 Z" fill="#f7f9fc"/><circle class="ring" cx="1081" cy="533" r="13" stroke="#777"/><text class="l" x="1081" y="552">RpLP0</text><circle class="d" cx="1063" cy="546" r="1.6"/></g>
<g id="n-CG30100"><circle class="tr" cx="1165" cy="552" r="6"/><text class="l" x="1163" y="567">CG30100</text></g>
<g id="n-RpL37a"><circle class="tr" cx="1082" cy="570" r="6"/><text class="l" x="1080" y="586">RpL37a</text></g>
<g id="n-Elf"><circle class="tr" cx="1111" cy="595" r="12"/><text class="l" x="1111" y="613">Elf</text><circle class="d" cx="1121" cy="609" r="1.6"/></g>
<g id="n-CG5705"><circle class="tr" cx="1148" cy="586" r="6"/><text class="l" x="1148" y="601">CG5705</text></g>

<g id="n-kni"><circle class="tf" cx="1258" cy="501" r="6"/><text class="l" x="1258" y="516">kni</text></g>
<g id="n-tin"><circle class="tf" cx="1286" cy="493" r="6"/><text class="l" x="1286" y="507">tin</text></g>
<g id="n-usp"><circle class="tf" cx="1316" cy="500" r="10"/><text class="l" x="1316" y="519">usp</text></g>
<g id="n-gro"><circle class="tf" cx="1237" cy="522" r="6"/><text class="l" x="1237" y="538">gro</text></g>
<g id="n-eis"><circle class="tf" cx="1337" cy="522" r="6"/><text class="l" x="1337" y="536">eis</text></g>
<g id="n-ftz-f1"><circle class="tf" cx="1229" cy="551" r="6"/><text class="l" x="1229" y="566">ftz-f1</text></g>
<g id="n-Camta"><circle class="tf" cx="1344" cy="551" r="6"/><text class="l" x="1344" y="566">Camta</text></g>
<g id="n-crp"><circle class="tf" cx="1237" cy="579" r="10"/><text class="l" x="1239" y="599">crp</text><circle class="d" cx="1226" cy="594" r="1.6"/></g>
<g id="n-MED26"><circle class="tf" cx="1337" cy="579" r="6"/><text class="l" x="1352" y="595">MED26</text></g>
<g id="n-arm"><circle class="tf" cx="1258" cy="602" r="6"/><text class="l" x="1255" y="616">arm</text></g>
<g id="n-alpha-Catenin"><circle class="tf" cx="1286" cy="609" r="6"/><text class="l" x="1285" y="625">alpha-Catenin</text></g>
<g id="n-NC2alpha"><circle class="tf" cx="1316" cy="602" r="16"/><text class="l" x="1347" y="616">NC2alpha</text><circle class="d" cx="1372" cy="607" r="1.6"/></g>
</svg>
